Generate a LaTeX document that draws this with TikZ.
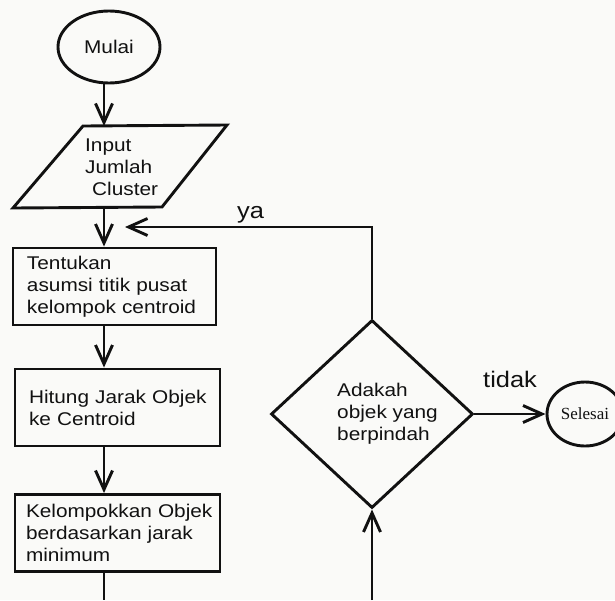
\documentclass[tikz,border=0pt]{standalone}
\usepackage{fontspec}
\setmainfont{Liberation Sans}[FakeStretch=1.13]
\newfontfamily\selfont{Liberation Serif}
\usetikzlibrary{shapes.geometric,arrows.meta}
\definecolor{bgc}{RGB}{250,250,248}
\definecolor{ink}{RGB}{17,17,17}
\newcommand\flowfont{\fontsize{18.4}{22}\selectfont}
\newcommand\lblfont{\fontsize{22.5}{26}\selectfont}
\begin{document}
\begin{tikzpicture}[x=1pt,y=-1pt,
  flow/.style={draw=ink, line width=2.9pt, line join=miter},
  arr/.style={flow, -{Straight Barb[length=19pt,width=17pt]}},
  txt/.style={font=\flowfont, text=ink, inner sep=0pt, align=left},
  procbox/.style={flow, rectangle, minimum height=77pt, font=\flowfont, text=ink, align=left, inner ysep=0pt},
  termin/.style={flow, ellipse, inner sep=0pt, text=ink},
  lbl/.style={font=\lblfont, text=ink, inner sep=0pt, anchor=base west}]
\useasboundingbox (0,0) rectangle (615,600);
\fill[bgc] (0,0) rectangle (615,600);

% start
\node[termin, minimum width=102pt, minimum height=72pt, font=\flowfont] (mulai) at (109,47) {Mulai};

% input parallelogram
\coordinate (inTL) at (83,126);
\coordinate (inTR) at (227,125);
\coordinate (inBR) at (162,207);
\coordinate (inBL) at (13,208);
\draw[flow] (inTL) -- (inTR) -- (inBR) -- (inBL) -- cycle;
\node[txt, anchor=west] (input) at (85,167) {Input\\Jumlah\\\hspace*{7pt}Cluster};

\coordinate (col) at (104,0);

% process boxes
\node[procbox, minimum width=203pt, text width=175pt, inner xsep=14pt] (b1) at (114.5,286.5)
  {\mbox{Tentukan}\\\mbox{asumsi titik pusat}\\\mbox{kelompok centroid}};
\node[procbox, minimum width=205pt, text width=177pt, inner xsep=14pt] (b2) at (117.5,407.5)
  {\mbox{Hitung Jarak Objek}\\\mbox{ke Centroid}};
\node[procbox, minimum width=205pt, text width=183pt, inner xsep=11pt] (b3) at (117.5,533)
  {\mbox{Kelompokkan Objek}\\\mbox{berdasarkan jarak}\\\mbox{minimum}};
\coordinate (endL) at (104,600);

% decision
\node[flow, diamond, minimum width=202pt, minimum height=188pt, inner sep=0pt] (dec) at (372,414) {};
\node[txt, anchor=west] (dectext) at (337,414) {Adakah\\objek yang\\berpindah};
\coordinate (yaEnd) at (125,227);
\coordinate (endR) at (372,600);

% end
\node[termin, minimum width=76pt, minimum height=64pt, font=\selfont\fontsize{17}{20}\selectfont] (sel) at (585,414) {Selesai};

% labels
\node[lbl] (ya) at (237,218) {ya};
\node[lbl] (tidak) at (483,387) {tidak};

% connectors
\draw[arr] (mulai.south -| col) -- (inTL -| col);
\draw[arr] (inBL -| col) -- (b1.north -| col);
\draw[arr] (b1.south -| col) -- (b2.north -| col);
\draw[arr] (b2.south -| col) -- (b3.north -| col);
\draw[flow] (b3.south -| col) -- (endL);
\draw[arr] (dec.north) -- (dec.north |- yaEnd) -- (yaEnd);
\draw[arr] (dec.east) -- (sel.west);
\draw[arr] (endR) -- (dec.south);
\end{tikzpicture}
\end{document}
